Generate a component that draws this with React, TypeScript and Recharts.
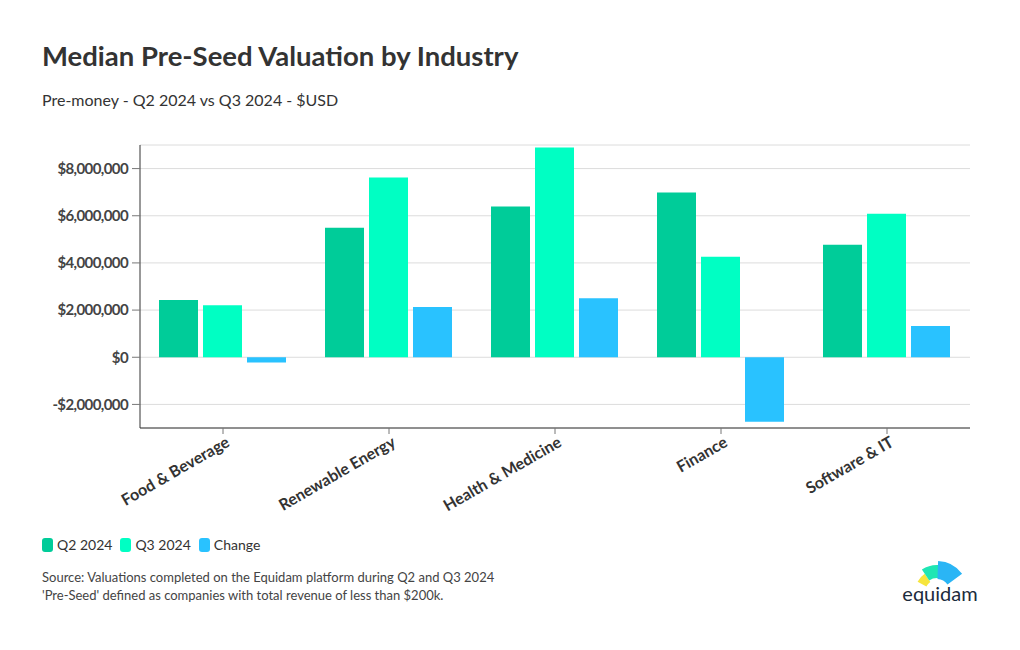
import React from 'react';
import { BarChart, Bar, XAxis, YAxis, CartesianGrid } from 'recharts';

const categories = ['Food & Beverage', 'Renewable Energy', 'Health & Medicine', 'Finance', 'Software & IT'];
const q2Values = [2430000, 5490000, 6390000, 6990000, 4770000];
const q3Values = [2210000, 7620000, 8890000, 4260000, 6090000];
const changeValues = [-220000, 2130000, 2500000, -2730000, 1320000];
const yTicks = [-2000000, 0, 2000000, 4000000, 6000000, 8000000];

const COLORS = { q2: '#00cc99', q3: '#00ffc3', change: '#29c2ff' };
const FONT = 'Lato, "Noto Sans", sans-serif';

const fmtMoney = (v: number) =>
  (v < 0 ? '-$' : '$') + Math.abs(v).toLocaleString('en-US');

const XTick = ({ x, y, payload }: any) => (
  <g transform={`translate(${x},${y})`}>
    <text
      x={0}
      y={0}
      dx={2}
      dy={12}
      textAnchor="end"
      transform="rotate(-30)"
      fill="#333"
      fontSize={16}
      fontWeight={700}
      fontFamily={FONT}
    >
      {payload.value}
    </text>
  </g>
);

// equidam mark: three pieces of a ring plus the word
const Logo = () => {
  const cx = 937;
  const cy = 592;
  const seg = (a0: number, a1: number, r0: number, r1: number) => {
    const p = (a: number, r: number) => {
      const t = (a * Math.PI) / 180;
      return `${(cx + r * Math.cos(t)).toFixed(1)},${(cy - r * Math.sin(t)).toFixed(1)}`;
    };
    return `M${p(a0, r0)} L${p(a0, r1)} A${r1},${r1} 0 0 1 ${p(a1, r1)} L${p(a1, r0)} A${r0},${r0} 0 0 0 ${p(a0, r0)} Z`;
  };
  return (
    <svg width={1020} height={650} style={{ position: 'absolute', left: 0, top: 0, pointerEvents: 'none' }}>
      <path d={seg(152, 124, 12, 22)} fill="#f6e53d" />
      <path d={seg(124, 86, 14, 27)} fill="#1fe6b4" />
      <path d={seg(88, 36, 13, 31)} fill="#2ab5f5" />
      <text x={940} y={601} textAnchor="middle" fontSize={20} fill="#1c2b3c" fontFamily={FONT}>
        equidam
      </text>
    </svg>
  );
};

const App: React.FC = () => {
  const data = categories.map((name, i) => ({
    name,
    q2: q2Values[i],
    q3: q3Values[i],
    change: changeValues[i],
  }));

  const legendItems = [
    { label: 'Q2 2024', color: COLORS.q2 },
    { label: 'Q3 2024', color: COLORS.q3 },
    { label: 'Change', color: COLORS.change },
  ];

  return (
    <div
      style={{
        position: 'absolute',
        left: 0,
        top: 0,
        width: 1020,
        height: 650,
        background: '#fff',
        fontFamily: FONT,
        color: '#333',
      }}
    >
      <div style={{ position: 'absolute', left: 42, top: 39, fontSize: 27.5, fontWeight: 700, color: '#333', whiteSpace: 'nowrap' }}>
        Median Pre-Seed Valuation by Industry
      </div>
      <div style={{ position: 'absolute', left: 42, top: 90, fontSize: 16, color: '#333', whiteSpace: 'nowrap' }}>
        Pre-money - Q2 2024 vs Q3 2024 - $USD
      </div>

      <div style={{ position: 'absolute', left: 0, top: 0 }}>
        <BarChart
          width={1020}
          height={540}
          data={data}
          margin={{ top: 145, right: 50, left: 40, bottom: 0 }}
          barCategoryGap={19}
          barGap={5}
        >
          <CartesianGrid vertical={false} stroke="#dcdcdc" />
          <XAxis
            dataKey="name"
            height={112}
            interval={0}
            tick={<XTick />}
            tickSize={6}
            axisLine={{ stroke: '#333' }}
            tickLine={{ stroke: '#777' }}
          />
          <YAxis
            width={100}
            domain={[-3000000, 9000000]}
            ticks={yTicks}
            tickFormatter={fmtMoney}
            tickSize={8}
            tickMargin={4}
            axisLine={{ stroke: '#333' }}
            tickLine={{ stroke: '#777' }}
            tick={{ fill: '#444', fontSize: 15, fontWeight: 700, fontFamily: FONT, letterSpacing: -0.6 }}
          />
          <Bar dataKey="q2" name="Q2 2024" fill={COLORS.q2} isAnimationActive={false} />
          <Bar dataKey="q3" name="Q3 2024" fill={COLORS.q3} isAnimationActive={false} />
          <Bar dataKey="change" name="Change" fill={COLORS.change} isAnimationActive={false} />
        </BarChart>
      </div>

      <div style={{ position: 'absolute', left: 42, top: 536, display: 'flex', alignItems: 'center', fontSize: 14, color: '#333' }}>
        {legendItems.map((it) => (
          <div key={it.label} style={{ display: 'flex', alignItems: 'center', marginRight: 8 }}>
            <span style={{ display: 'inline-block', width: 11, height: 14, borderRadius: 3, background: it.color, marginRight: 4 }} />
            <span>{it.label}</span>
          </div>
        ))}
      </div>

      <div style={{ position: 'absolute', left: 42, top: 568, fontSize: 13, lineHeight: '18px', color: '#444' }}>
        <div>Source: Valuations completed on the Equidam platform during Q2 and Q3 2024</div>
        <div>'Pre-Seed' defined as companies with total revenue of less than $200k.</div>
      </div>

      <Logo />
    </div>
  );
};

export default App;
